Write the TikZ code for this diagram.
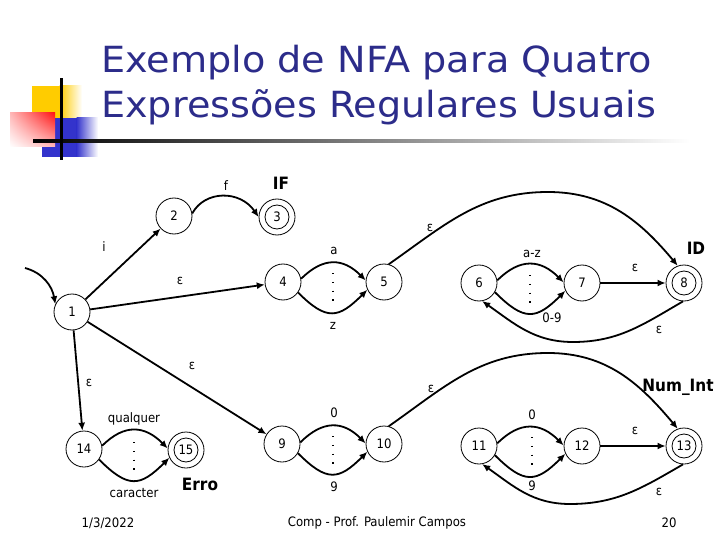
\documentclass[tikz,border=0pt]{standalone}
\usepackage{fontspec}
\setmainfont{DejaVu Sans Condensed}
\newfontfamily\titlefont{DejaVu Sans}[FakeStretch=1.06]
\usetikzlibrary{arrows.meta,shadings}
\definecolor{titleblue}{RGB}{44,44,138}
\definecolor{decoyellow}{RGB}{255,204,0}
\definecolor{decoblue}{RGB}{51,51,204}
\definecolor{decored}{RGB}{255,20,20}
\begin{document}
\begin{tikzpicture}[x=1pt,y=1pt,
  st/.style={circle,draw,line width=0.8pt,minimum size=36pt,inner sep=0pt,font=\fontsize{13}{15}\selectfont},
  acc/.style={st,path picture={\draw[line width=0.8pt] (path picture bounding box.center) circle[radius=12pt];}},
  edge/.style={line width=1.8pt,-{Latex[length=8pt,width=7pt]}},
  lbl/.style={font=\fontsize{13}{15}\selectfont,inner sep=0pt},
  big/.style={font=\fontsize{17}{20}\selectfont\bfseries,inner sep=0pt},
  dots/.style={line width=1.1pt,dash pattern=on 1.1pt off 7.7pt},
  ttl/.style={font=\titlefont\fontsize{36}{45}\selectfont,text=titleblue,inner sep=0pt,anchor=base west}]
\useasboundingbox (0,0) rectangle (720,-540);
% decoration
\fill[decoyellow] (32,-86) rectangle (60,-118);
\shade[left color=decoyellow,right color=white] (59.5,-86) rectangle (82,-118);
\fill[decoblue] (42,-118) rectangle (77,-157);
\shade[left color=decoblue,right color=white] (76.5,-118) rectangle (98,-157);
\shade[upper right=decored,upper left=decored!30,lower right=decored!30,lower left=white] (10,-113) rectangle (55,-147);
\shade[left color=black,right color=white] (33,-139.8) rectangle (690,-142.3);
\fill[black] (60,-78) rectangle (62.6,-160);
% title
\node[ttl] (t1) at (101,-73) {Exemplo de NFA para Quatro};
\node[ttl] (t2) at (101,-118) {Expressões Regulares Usuais};
% states
\node[st] (n1) at (72,-312) {1};
\node[st] (n2) at (174,-216) {2};
\node[acc] (n3) at (277,-217) {3};
\node[st] (n4) at (283,-282) {4};
\node[st] (n5) at (384,-282) {5};
\node[st] (n6) at (479,-283) {6};
\node[st] (n7) at (582,-283) {7};
\node[acc] (n8) at (684,-283) {8};
\node[st] (n9) at (282,-444) {9};
\node[st] (n10) at (384,-444) {10};
\node[st] (n11) at (479,-446) {11};
\node[st] (n12) at (582,-446) {12};
\node[acc] (n13) at (684,-446) {13};
\node[st] (n14) at (84,-449) {14};
\node[acc] (n15) at (186,-450) {15};
% edges
\coordinate (s0) at (25,-268);
\draw[edge] (s0) to[out=-15,in=100] (n1.155);
\draw[edge] (n1) -- (n2);
\draw[edge] (n2.8) .. controls (205,-190) and (240,-190) .. (n3.180);
\draw[edge] (n1) -- (n4);
\draw[edge] (n4.10) to[out=45,in=135,looseness=1.25] (n5.175);
\draw[edge] (n4.-35) to[out=-45,in=-135,looseness=1.5] (n5.-155);
\draw[edge] (n5.75) to[out=35,in=180] (548,-192) to[out=0,in=130] (n8.110);
\draw[edge] (n6.8) to[out=45,in=135,looseness=1.25] (n7.178);
\draw[edge] (n6.-30) to[out=-45,in=-135,looseness=1.5] (n7.-155);
\draw[edge] (n7) -- (n8);
\draw[edge] (n8.-93) to[out=-150,in=0] (573,-342) to[out=180,in=-35] (n6.-80);
\draw[edge] (n1) -- (n14);
\draw[edge] (n1) -- (n9);
\draw[edge] (n14.10) to[out=45,in=135,looseness=1.25] (n15.175);
\draw[edge] (n14.-35) to[out=-45,in=-135,looseness=1.5] (n15.-155);
\draw[edge] (n9.5) to[out=45,in=135,looseness=1.25] (n10.178);
\draw[edge] (n9.-30) to[out=-45,in=-135,looseness=1.5] (n10.-155);
\draw[edge] (n10.75) to[out=35,in=180] (548,-353) to[out=0,in=130] (n13.110);
\draw[edge] (n11.8) to[out=45,in=135,looseness=1.25] (n12.178);
\draw[edge] (n11.-30) to[out=-45,in=-135,looseness=1.5] (n12.-155);
\draw[edge] (n12) -- (n13);
\draw[edge] (n13.-93) to[out=-150,in=0] (570,-504) to[out=180,in=-35] (n11.-80);
% dots
\draw[dots] (333,-273) -- (333,-305);
\draw[dots] (530,-275) -- (530,-307);
\draw[dots] (134,-442) -- (134,-474);
\draw[dots] (333,-436) -- (333,-468);
\draw[dots] (532,-437) -- (532,-469);
% labels
\node[lbl] (li) at (104,-247) {i};
\node[lbl] (lf) at (226,-186) {f};
\node[big] (lIF) at (281,-183) {IF};
\node[lbl] (le14) at (180,-281) {ε};
\node[lbl] (la) at (334,-251) {a};
\node[lbl] (lz) at (333,-326) {z};
\node[lbl] (le58) at (430,-228) {ε};
\node[lbl] (laz) at (532,-254) {a-z};
\node[lbl] (l09) at (552,-318) {0-9};
\node[lbl] (le78) at (635,-268) {ε};
\node[lbl] (le86) at (659,-330) {ε};
\node[big] (lID) at (696,-248) {ID};
\node[lbl] (le114) at (89,-383) {ε};
\node[lbl] (le19) at (192,-366) {ε};
\node[lbl] (lq) at (134,-419) {qualquer};
\node[lbl] (lc) at (134,-493) {caracter};
\node[big] (lErro) at (200,-484) {Erro};
\node[lbl] (l0a) at (334,-413) {0};
\node[lbl] (l9a) at (334,-487) {9};
\node[lbl] (le1013) at (431,-389) {ε};
\node[big] (lNum) at (678,-387) {Num\_Int};
\node[lbl] (l0b) at (532,-415) {0};
\node[lbl] (l9b) at (532,-486) {9};
\node[lbl] (le1213) at (635,-431) {ε};
\node[lbl] (le1311) at (659,-492) {ε};
% footer
\node[lbl] (fd) at (108,-523) {1/3/2022};
\node[lbl] (fc) at (377,-523) {Comp - Prof. Paulemir Campos};
\node[lbl] (fp) at (669,-523) {20};
\end{tikzpicture}
\end{document}
